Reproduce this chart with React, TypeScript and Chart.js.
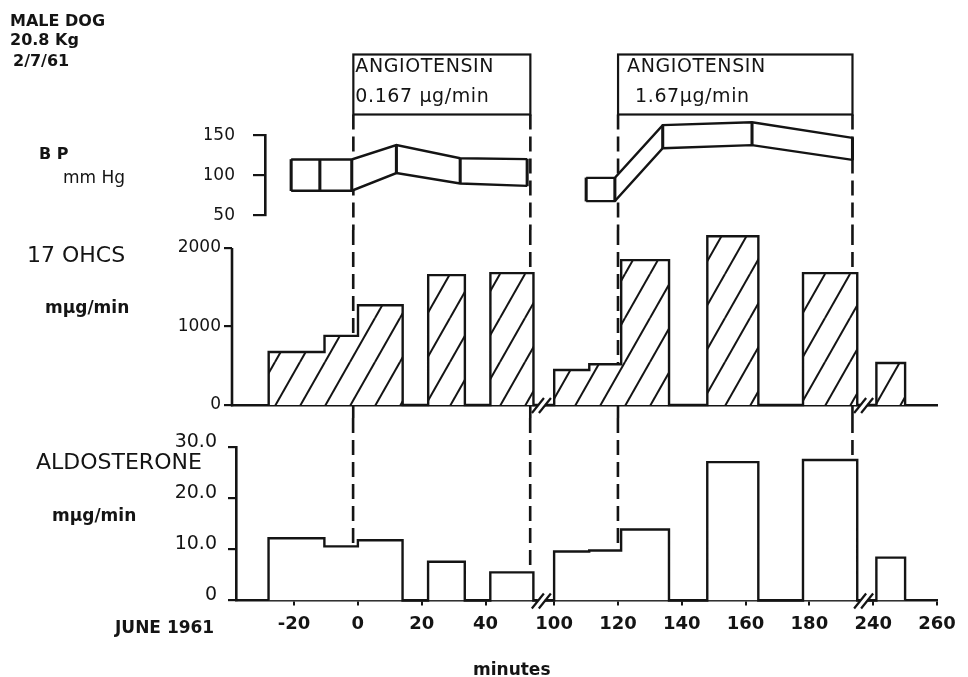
import React, { useEffect, useRef } from "react";
import { Chart, registerables } from "chart.js";

Chart.register(...registerables);

// ---------------- data (minutes from start of first infusion) ----------------
const PERIOD_START = [-28, -10.5, 0, 22, 41.5, 100, 111, 121, 148, 178, 241];
const PERIOD_END = [-10.5, 0, 14, 33.5, 55, 111, 121, 136, 164, 195, 250];
const OHCS = [675, 880, 1270, 1655, 1680, 445, 520, 1845, 2150, 1680, 535];
const ALDO = [12.2, 10.6, 11.8, 7.6, 5.5, 9.6, 9.8, 13.9, 27.1, 27.5, 8.4];

const BP1_T = [-21, -12, -2, 12, 32, 53];
const BP1_SYS = [120, 120, 120, 138, 121.5, 120.5];
const BP1_DIA = [81, 81, 81, 103, 90, 87];
const BP2_T = [110, 119, 134, 162, 193.5];
const BP2_SYS = [97, 97, 163, 166.5, 147];
const BP2_DIA = [68, 68, 134, 138, 119.5];

const INFUSION_START = [-1.5, 120];
const INFUSION_END = [54, 193.5];
const INFUSION_DOSE = ["0.167 µg/min", "1.67µg/min"];

const X_TICKS = [-20, 0, 20, 40, 100, 120, 140, 160, 180, 240, 260];
const BP_TICKS = [50, 100, 150];
const OHCS_TICKS = [0, 1000, 2000];
const ALDO_TICKS = [0, 10, 20, 30];

// broken time axis: minutes where the axis is cut, and minutes left out there
const BREAK_AT = [57.5, 197];
const BREAK_SKIP = [38.5, 40];

// ---------------- helpers ----------------
const INK = "#141414";
const FONT = '"DejaVu Sans", sans-serif';

function toAxis(t: number): number {
  let v = t;
  BREAK_AT.forEach((b, i) => {
    if (t > b + BREAK_SKIP[i] / 2) v -= BREAK_SKIP[i];
  });
  return v;
}

function histogram(values: number[]) {
  const pts: { x: number; y: number }[] = [];
  for (let i = 0; i < values.length; i++) {
    const s = PERIOD_START[i];
    const e = PERIOD_END[i];
    const contPrev = i > 0 && PERIOD_END[i - 1] === s;
    const contNext = i < values.length - 1 && PERIOD_START[i + 1] === e;
    if (!contPrev) pts.push({ x: toAxis(s), y: 0 });
    pts.push({ x: toAxis(s), y: values[i] });
    pts.push({ x: toAxis(e), y: values[i] });
    if (!contNext) pts.push({ x: toAxis(e), y: 0 });
  }
  return pts;
}

function series(ts: number[], vs: number[]) {
  return ts.map((t, i) => ({ x: toAxis(t), y: vs[i] }));
}

function makeHatch(ctx: CanvasRenderingContext2D): CanvasPattern | string {
  const W = 25;
  const H = 44;
  const tile = document.createElement("canvas");
  tile.width = W;
  tile.height = H;
  const t = tile.getContext("2d");
  if (!t) return "#fff";
  t.fillStyle = "#fff";
  t.fillRect(0, 0, W, H);
  t.strokeStyle = INK;
  t.lineWidth = 2;
  for (const kx of [-1, 0, 1]) {
    for (const ky of [-1, 0, 1]) {
      t.beginPath();
      t.moveTo(kx * W, H + ky * H);
      t.lineTo(kx * W + W, ky * H);
      t.stroke();
    }
  }
  return ctx.createPattern(tile, "repeat") || "#fff";
}

function xAxis(leftT: number, kind: "hidden" | "line" | "full") {
  return {
    type: "linear" as const,
    display: kind !== "hidden",
    bounds: "data" as const,
    offset: false,
    min: toAxis(leftT),
    max: toAxis(260),
    afterBuildTicks: (s: any) => {
      s.ticks = X_TICKS.map((t) => ({ value: toAxis(t) }));
    },
    afterFit: (s: any) => {
      s.height = kind === "full" ? 40 : 0;
      s.paddingLeft = 0;
      s.paddingRight = 0;
    },
    ticks: {
      display: kind === "full",
      autoSkip: false,
      maxRotation: 0,
      padding: 8,
      color: INK,
      font: { family: FONT, size: 18, weight: "bold" as const },
      callback: (_v: any, i: number) => String(X_TICKS[i]),
    },
    grid: {
      display: kind === "full",
      offset: false,
      drawOnChartArea: false,
      tickLength: 5,
      lineWidth: 2,
      color: INK,
    },
    border: { display: kind !== "hidden", width: 2.6, color: INK },
  };
}

function yAxis(
  min: number,
  max: number,
  ticks: number[],
  o: { size: number; padding: number; tickLength: number; border: boolean; labelOffset?: number; fmt?: (v: number) => string }
) {
  return {
    type: "linear" as const,
    bounds: "data" as const,
    beginAtZero: false,
    min,
    max,
    afterBuildTicks: (s: any) => {
      s.ticks = ticks.map((v) => ({ value: v }));
    },
    afterFit: (s: any) => {
      s.width = 60;
      s.paddingTop = 0;
      s.paddingBottom = 0;
    },
    ticks: {
      autoSkip: false,
      padding: o.padding,
      labelOffset: o.labelOffset || 0,
      color: INK,
      font: { family: FONT, size: o.size },
      callback: (v: any) => (o.fmt ? o.fmt(Number(v)) : String(v)),
    },
    grid: {
      drawOnChartArea: false,
      tickLength: o.tickLength,
      lineWidth: 2.2,
      color: INK,
    },
    border: { display: o.border, width: 2.6, color: INK },
  };
}

function infusionLines(top: (c: any) => number, bottom: (c: any) => number) {
  return {
    id: "infusionLines",
    beforeDatasetsDraw(chart: any) {
      const ctx = chart.ctx as CanvasRenderingContext2D;
      const xs = chart.scales.x;
      ctx.save();
      ctx.setLineDash([15, 7]);
      ctx.lineWidth = 2.6;
      ctx.strokeStyle = INK;
      for (const t of [...INFUSION_START, ...INFUSION_END]) {
        const x = xs.getPixelForValue(toAxis(t));
        ctx.beginPath();
        ctx.moveTo(x, top(chart));
        ctx.lineTo(x, bottom(chart));
        ctx.stroke();
      }
      ctx.restore();
    },
  };
}

const breakMarks = {
  id: "breakMarks",
  afterDatasetsDraw(chart: any) {
    const ctx = chart.ctx as CanvasRenderingContext2D;
    const y = chart.scales.y.getPixelForValue(0);
    ctx.save();
    for (const b of BREAK_AT) {
      const x = chart.scales.x.getPixelForValue(toAxis(b));
      ctx.fillStyle = "#fff";
      ctx.fillRect(x - 3.5, y - 3, 7, 6);
      ctx.strokeStyle = INK;
      ctx.lineWidth = 2.2;
      for (const dx of [-3.5, 3.5]) {
        ctx.beginPath();
        ctx.moveTo(x + dx - 6, y + 8);
        ctx.lineTo(x + dx + 6, y - 7);
        ctx.stroke();
      }
    }
    ctx.restore();
  },
};

const ohcsAxisLine = {
  id: "ohcsAxisLine",
  afterDraw(chart: any) {
    const ctx = chart.ctx as CanvasRenderingContext2D;
    const ys = chart.scales.y;
    const x = chart.chartArea.left;
    ctx.save();
    ctx.strokeStyle = INK;
    ctx.lineWidth = 2.6;
    ctx.beginPath();
    ctx.moveTo(x, ys.getPixelForValue(0) + 1.3);
    ctx.lineTo(x, ys.getPixelForValue(OHCS_TICKS[OHCS_TICKS.length - 1]));
    ctx.stroke();
    ctx.restore();
  },
};

const TEXT_INSET = [
  [2, 2],
  [9, 17],
];

const infusionBoxes = {
  id: "infusionBoxes",
  afterDraw(chart: any) {
    const ctx = chart.ctx as CanvasRenderingContext2D;
    const xs = chart.scales.x;
    ctx.save();
    ctx.strokeStyle = INK;
    ctx.lineWidth = 2.2;
    ctx.fillStyle = INK;
    ctx.font = `19px ${FONT}`;
    ctx.textBaseline = "middle";
    ctx.textAlign = "left";
    (ctx as any).letterSpacing = "0.6px";
    INFUSION_START.forEach((s, i) => {
      const x1 = xs.getPixelForValue(toAxis(s));
      const x2 = xs.getPixelForValue(toAxis(INFUSION_END[i]));
      ctx.strokeRect(x1, 54.5, x2 - x1, 60);
      ctx.fillText("ANGIOTENSIN", x1 + TEXT_INSET[i][0], 67);
      ctx.fillText(INFUSION_DOSE[i], x1 + TEXT_INSET[i][1], 97);
    });
    ctx.restore();
  },
};

const common = {
  responsive: false,
  maintainAspectRatio: false,
  animation: false as const,
  events: [] as any[],
  plugins: { legend: { display: false }, tooltip: { enabled: false } },
};

function lineDs(data: any[], extra: any = {}) {
  return {
    type: "line" as const,
    data,
    borderColor: INK,
    borderWidth: 2.4,
    pointRadius: 0,
    tension: 0,
    fill: false,
    clip: false as any,
    ...extra,
  };
}

function Label(props: { x: number; y: number; size: number; bold?: boolean; children: React.ReactNode }) {
  return (
    <div
      style={{
        position: "absolute",
        left: props.x,
        top: props.y,
        fontFamily: FONT,
        fontSize: props.size,
        fontWeight: props.bold ? 700 : 400,
        lineHeight: 1,
        whiteSpace: "nowrap",
        color: INK,
      }}
    >
      {props.children}
    </div>
  );
}

export default function App() {
  const bpRef = useRef<HTMLCanvasElement>(null);
  const ohRef = useRef<HTMLCanvasElement>(null);
  const alRef = useRef<HTMLCanvasElement>(null);

  useEffect(() => {
    const charts: Chart[] = [];
    if (!bpRef.current || !ohRef.current || !alRef.current) return;

    const verticals = [
      ...BP1_T.map((t, i) => ({ x: toAxis(t), y: [BP1_DIA[i], BP1_SYS[i]] })),
      ...BP2_T.map((t, i) => ({ x: toAxis(t), y: [BP2_DIA[i], BP2_SYS[i]] })),
    ];

    charts.push(
      new Chart(bpRef.current, {
        type: "line",
        data: {
          datasets: [
            {
              type: "bar",
              data: verticals as any,
              backgroundColor: INK,
              borderWidth: 0,
              barThickness: 2.4,
              clip: false as any,
            } as any,
            lineDs(series(BP1_T, BP1_SYS)),
            lineDs(series(BP1_T, BP1_DIA), { fill: "-1", backgroundColor: "#fff" }),
            lineDs(series(BP2_T, BP2_SYS)),
            lineDs(series(BP2_T, BP2_DIA), { fill: "-1", backgroundColor: "#fff" }),
          ],
        },
        options: {
          ...common,
          layout: { padding: { left: 205, right: 31, top: 135.5, bottom: 14.5 } },
          scales: {
            x: xAxis(-29.2, "hidden") as any,
            y: yAxis(50, 150, BP_TICKS, { size: 17, padding: 18, tickLength: 12, border: true }) as any,
          },
        } as any,
        plugins: [infusionLines(() => 114.5, (c) => c.height), infusionBoxes],
      })
    );

    const ohCtx = ohRef.current.getContext("2d") as CanvasRenderingContext2D;
    const hatch = makeHatch(ohCtx);
    charts.push(
      new Chart(ohRef.current, {
        type: "line",
        data: {
          datasets: [lineDs(histogram(OHCS), { fill: "origin", backgroundColor: hatch })],
        },
        options: {
          ...common,
          layout: { padding: { left: 172, right: 31, top: 2.3, bottom: 13 } },
          scales: {
            x: xAxis(-39.5, "line") as any,
            y: yAxis(0, 2200, OHCS_TICKS, { size: 17, padding: 3, tickLength: 8, border: false }) as any,
          },
        } as any,
        plugins: [infusionLines(() => 0, (c) => c.height), breakMarks, ohcsAxisLine],
      })
    );

    charts.push(
      new Chart(alRef.current, {
        type: "line",
        data: {
          datasets: [lineDs(histogram(ALDO), { fill: "origin", backgroundColor: "#fff" })],
        },
        options: {
          ...common,
          layout: { padding: { left: 176, right: 31, top: 29.3, bottom: 36.5 } },
          scales: {
            x: xAxis(-38.2, "full") as any,
            y: yAxis(0, 30, ALDO_TICKS, {
              size: 19,
              padding: 11,
              tickLength: 8,
              border: true,
              labelOffset: -5,
              fmt: (v) => (v === 0 ? "0" : v.toFixed(1)),
            }) as any,
          },
        } as any,
        plugins: [infusionLines(() => 0, (c) => c.chartArea.bottom), breakMarks],
      })
    );

    return () => charts.forEach((c) => c.destroy());
  }, []);

  return (
    <div
      style={{
        position: "absolute",
        left: 0,
        top: 0,
        width: 968,
        height: 677,
        background: "#fff",
        overflow: "hidden",
      }}
    >
      <canvas ref={bpRef} width={968} height={230} style={{ position: "absolute", left: 0, top: 0 }} />
      <canvas ref={ohRef} width={968} height={188} style={{ position: "absolute", left: 0, top: 230 }} />
      <canvas ref={alRef} width={968} height={259} style={{ position: "absolute", left: 0, top: 418 }} />

      <Label x={10} y={13.3} size={16} bold>MALE DOG</Label>
      <Label x={10} y={32.3} size={16} bold>20.8 Kg</Label>
      <Label x={13} y={53.3} size={16} bold>2/7/61</Label>

      <Label x={39} y={146.3} size={16} bold>B P</Label>
      <Label x={63} y={169.3} size={17}>mm Hg</Label>

      <Label x={27} y={244.4} size={22}>17 OHCS</Label>
      <Label x={45} y={298.6} size={17} bold>mµg/min</Label>

      <Label x={36} y={451} size={22}>ALDOSTERONE</Label>
      <Label x={52} y={507.3} size={17} bold>mµg/min</Label>

      <Label x={115} y={619.3} size={17} bold>JUNE 1961</Label>
      <Label x={473} y={660.6} size={17} bold>minutes</Label>
    </div>
  );
}
